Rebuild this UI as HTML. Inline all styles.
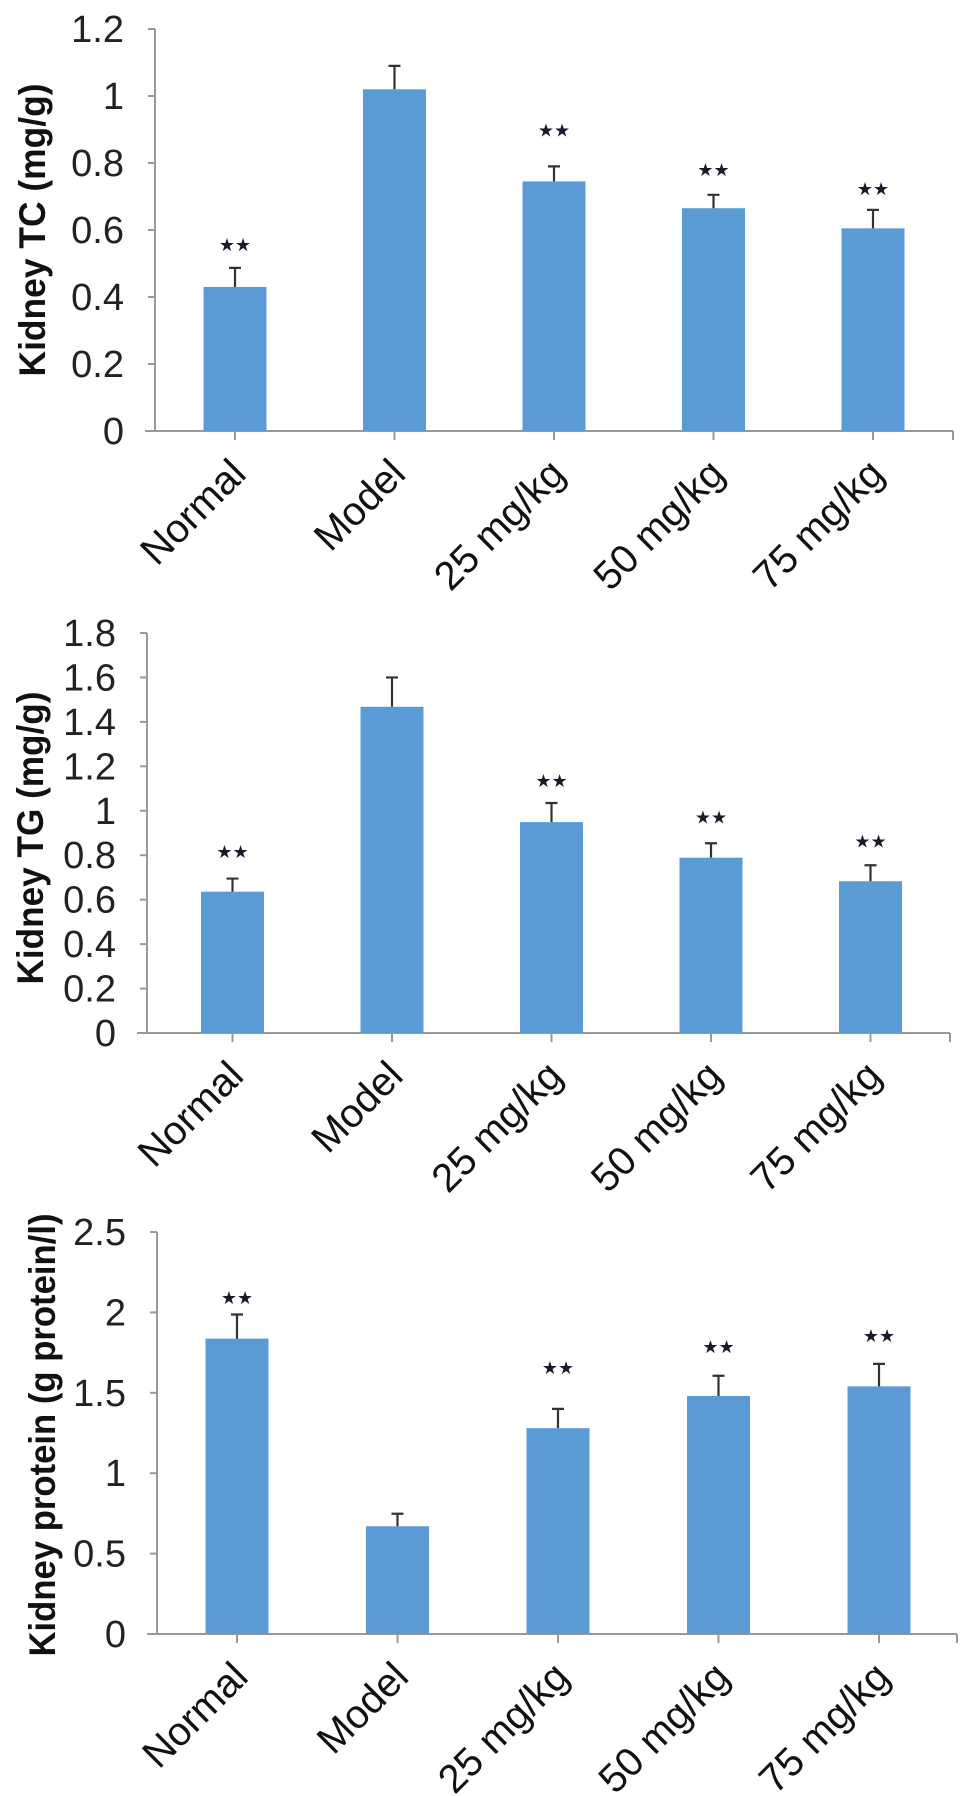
<!DOCTYPE html>
<html><head><meta charset="utf-8">
<style>
html,body{margin:0;padding:0;background:#fff;}
svg{display:block;}
text{font-family:"Liberation Sans",Arial,sans-serif;}
</style></head>
<body>
<svg id="fig" width="969" height="1796" viewBox="0 0 969 1796" xmlns="http://www.w3.org/2000/svg"></svg>
<script>
const categories = ["Normal","Model","25 mg/kg","50 mg/kg","75 mg/kg"];
// Chart A: Kidney TC
const tcValues = [0.43, 1.02, 0.745, 0.665, 0.605];
const tcErrors = [0.487, 1.09, 0.79, 0.705, 0.66];
const tcStars  = [0.558, null, 0.90, 0.782, 0.726];
const tcTicks  = [0, 0.2, 0.4, 0.6, 0.8, 1, 1.2];
const tcTickLabels = ["0","0.2","0.4","0.6","0.8","1","1.2"];
// Chart B: Kidney TG
const tgValues = [0.636, 1.468, 0.949, 0.789, 0.683];
const tgErrors = [0.695, 1.60, 1.035, 0.854, 0.755];
const tgStars  = [0.82, null, 1.138, 0.975, 0.866];
const tgTicks  = [0, 0.2, 0.4, 0.6, 0.8, 1, 1.2, 1.4, 1.6, 1.8];
const tgTickLabels = ["0","0.2","0.4","0.6","0.8","1","1.2","1.4","1.6","1.8"];
// Chart C: Kidney protein
const prValues = [1.837, 0.67, 1.28, 1.48, 1.54];
const prErrors = [1.987, 0.748, 1.40, 1.606, 1.68];
const prStars  = [2.095, null, 1.66, 1.79, 1.86];
const prTicks  = [0, 0.5, 1, 1.5, 2, 2.5];
const prTickLabels = ["0","0.5","1","1.5","2","2.5"];

const NS = "http://www.w3.org/2000/svg";
const svg = document.getElementById("fig");
function mk(tag, attrs, parent){
  const e = document.createElementNS(NS, tag);
  for (const k in attrs) e.setAttribute(k, attrs[k]);
  (parent||svg).appendChild(e);
  return e;
}

function drawChart(cfg){
  const g = mk("g", {});
  
  
  const yScale = v => cfg.y0 - (v / cfg.max) * (cfg.y0 - cfg.yTop);
  const xScale = i => cfg.first + i * cfg.step;
  const bw = 63;

  const ya = mk("line", {x1:cfg.ax, y1:cfg.yTop, x2:cfg.ax, y2:cfg.y0, stroke:"#999", "stroke-width":2}, g);
  
  
  cfg.ticks.forEach((t, i) => {
    const y = yScale(t);
    const tk = mk("line", {x1:cfg.ax-7, y1:y, x2:cfg.ax, y2:y, stroke:"#999", "stroke-width":2}, g);
    
    
    const tl = mk("text", {x:cfg.ax-31, y:y+13, "text-anchor":"end", "font-size":38, fill:"#222"}, g);
    tl.textContent = cfg.tickLabels[i];
    
    
  });
  const xa = mk("line", {x1:cfg.ax-10, y1:cfg.y0, x2:cfg.xEnd, y2:cfg.y0, stroke:"#999", "stroke-width":2}, g);
  
  
  const et = mk("line", {x1:cfg.xEnd, y1:cfg.y0, x2:cfg.xEnd, y2:cfg.y0+9, stroke:"#999", "stroke-width":2}, g);
  
  

  const tt = mk("text", {x:0, y:0, transform:`translate(${cfg.titleX},${cfg.titleY}) rotate(-90)`, "text-anchor":"middle", "font-size":37, "font-weight":"bold", fill:"#111", textLength:cfg.titleLen, lengthAdjust:"spacingAndGlyphs"}, g);
  tt.textContent = cfg.title;
  
  

  categories.forEach((c, i) => {
    const cx = xScale(i);
    const top = yScale(cfg.values[i]);
    const bar = mk("rect", {x:cx-bw/2, y:top, width:bw, height:cfg.y0-top, fill:"#5b9bd5"}, g);
    
    
    const et2 = yScale(cfg.errors[i]);
    const eb = mk("path", {d:`M${cx},${top} V${et2} M${cx-6},${et2} H${cx+6}`, stroke:"#333", "stroke-width":2.2, fill:"none"}, g);
    
    
    if (cfg.stars[i] !== null){
      const sy = yScale(cfg.stars[i]);
      const st = mk("text", {x:cx, y:sy+7, "text-anchor":"middle", "font-size":18, fill:"#1a1a2a", "font-family":"DejaVu Sans, sans-serif"}, g);
      st.textContent = "★★";
      
      
    }
    const xt = mk("line", {x1:cx, y1:cfg.y0, x2:cx, y2:cfg.y0+9, stroke:"#999", "stroke-width":2}, g);
    
    
    const lx = cx + 13, ly = cfg.y0 + 45;
    const lab = mk("text", {x:0, y:0, transform:`translate(${lx},${ly}) rotate(-45)`, "text-anchor":"end", "font-size":40, fill:"#111"}, g);
    lab.textContent = c;
    
    
  });
}

drawChart({name:"kidney-tc-chart", ax:155, yTop:29, y0:431, max:1.2, first:235, step:159.5, xEnd:953,
  ticks:tcTicks, tickLabels:tcTickLabels, values:tcValues, errors:tcErrors, stars:tcStars,
  title:"Kidney  TC (mg/g)", titleX:45, titleY:230, titleLen:293});
drawChart({name:"kidney-tg-chart", ax:147, yTop:633, y0:1033, max:1.8, first:232.5, step:159.5, xEnd:950,
  ticks:tgTicks, tickLabels:tgTickLabels, values:tgValues, errors:tgErrors, stars:tgStars,
  title:"Kidney  TG (mg/g)", titleX:43, titleY:838, titleLen:293});
drawChart({name:"kidney-protein-chart", ax:157, yTop:1232, y0:1634, max:2.5, first:237, step:160.5, xEnd:957,
  ticks:prTicks, tickLabels:prTickLabels, values:prValues, errors:prErrors, stars:prStars,
  title:"Kidney protein  (g protein/l)", titleX:55, titleY:1435, titleLen:443});
</script>
</body></html>
